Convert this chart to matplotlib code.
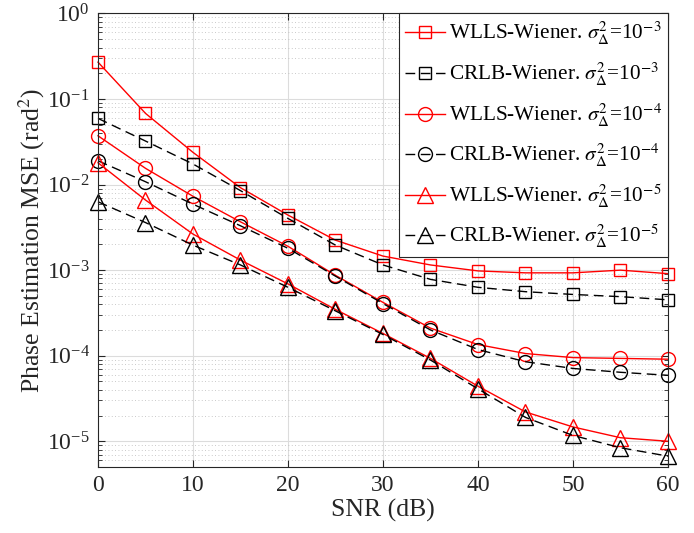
import matplotlib
matplotlib.use("Agg")
import matplotlib.pyplot as plt
from matplotlib.ticker import LogLocator, NullFormatter, MultipleLocator

plt.rcParams['font.family'] = ['Liberation Serif', 'DejaVu Serif']
plt.rcParams['mathtext.fontset'] = 'stix'

snr = [0, 5, 10, 15, 20, 25, 30, 35, 40, 45, 50, 55, 60]

wlls_e3 = [0.27, 0.068, 0.0238, 0.0092, 0.0044, 0.00224, 0.00146, 1.15e-3, 9.8e-4, 9.3e-4, 9.3e-4, 1.0e-3, 9.1e-4]
crlb_e3 = [0.0594, 0.0323, 0.0174, 0.0085, 0.00402, 0.00196, 1.15e-3, 7.8e-4, 6.3e-4, 5.6e-4, 5.2e-4, 4.9e-4, 4.5e-4]
wlls_e4 = [0.0372, 0.0155, 0.0073, 0.00367, 0.0019, 8.7e-4, 4.2e-4, 2.1e-4, 1.35e-4, 1.06e-4, 9.5e-5, 9.3e-5, 9.1e-5]
crlb_e4 = [0.019, 0.0108, 0.0059, 0.0033, 0.0018, 8.5e-4, 4.07e-4, 2.0e-4, 1.18e-4, 8.5e-5, 7.1e-5, 6.4e-5, 5.9e-5]
wlls_e5 = [0.018, 0.0066, 0.00264, 1.31e-3, 6.9e-4, 3.47e-4, 1.82e-4, 9.3e-5, 4.4e-5, 2.2e-5, 1.47e-5, 1.1e-5, 1.0e-5]
crlb_e5 = [0.0063, 0.0036, 0.00196, 1.15e-3, 6.3e-4, 3.34e-4, 1.77e-4, 8.9e-5, 4.1e-5, 1.9e-5, 1.17e-5, 8.4e-6, 6.7e-6]

labels = [
    r'WLLS-Wiener. $\sigma^2_\Delta$=10$^{-3}$',
    r'CRLB-Wiener. $\sigma^2_\Delta$=10$^{-3}$',
    r'WLLS-Wiener. $\sigma^2_\Delta$=10$^{-4}$',
    r'CRLB-Wiener. $\sigma^2_\Delta$=10$^{-4}$',
    r'WLLS-Wiener. $\sigma^2_\Delta$=10$^{-5}$',
    r'CRLB-Wiener. $\sigma^2_\Delta$=10$^{-5}$',
]

fig = plt.figure(figsize=(6.94, 5.33), dpi=100)
ax = fig.add_axes([0.1412, 0.1238, 0.8213, 0.8509])

dash = (0, (7, 4))
series = [
    (wlls_e3, 'red', '-', 's', 9),
    (crlb_e3, 'black', dash, 's', 9),
    (wlls_e4, 'red', '-', 'o', 10),
    (crlb_e4, 'black', dash, 'o', 10),
    (wlls_e5, 'red', '-', '^', 11),
    (crlb_e5, 'black', dash, '^', 11),
]
for (vals, col, ls, mk, ms), lab in zip(series, labels):
    ax.plot(snr, vals, color=col, linestyle=ls, linewidth=1.0, marker=mk,
            markersize=ms, markerfacecolor='none',
            markeredgecolor=col, markeredgewidth=1.0, label=lab, clip_on=False)

ax.set_yscale('log')
ax.set_xlim(0, 60)
ax.set_ylim(5e-6, 1)
ax.xaxis.set_major_locator(MultipleLocator(10))
ax.yaxis.set_major_locator(LogLocator(base=10, numticks=10))
ax.yaxis.set_minor_locator(LogLocator(base=10, subs=range(2, 10), numticks=20))
ax.yaxis.set_minor_formatter(NullFormatter())

ax.grid(True, which='major', color='#dcdcdc', linewidth=0.8, linestyle='-')
ax.grid(True, which='minor', axis='y', color='#b8b8b8', linewidth=0.6, linestyle=(0, (1, 3)))
ax.set_axisbelow(True)

ax.tick_params(which='both', direction='in', top=True, right=True, labelsize=17, colors='#262626')
ax.tick_params(which='major', length=5, width=0.8, pad=6)
ax.tick_params(which='minor', length=3, width=0.6)
for sp in ax.spines.values():
    sp.set_color('#262626')
    sp.set_linewidth(0.8)

ax.set_xlabel('SNR (dB)', fontsize=18.5, color='#262626', labelpad=2)
ax.set_ylabel(r'Phase Estimation MSE (rad$^2$)', fontsize=18.5, color='#262626', labelpad=0)

leg = ax.legend(loc='upper right', fontsize=15.3, frameon=True, fancybox=False,
                edgecolor='#262626', framealpha=1, borderpad=0.3, labelspacing=0.63,
                handlelength=1.9, handletextpad=0.15, borderaxespad=0.0)
leg.get_frame().set_linewidth(0.8)

fig.savefig('out.png', dpi=100)
